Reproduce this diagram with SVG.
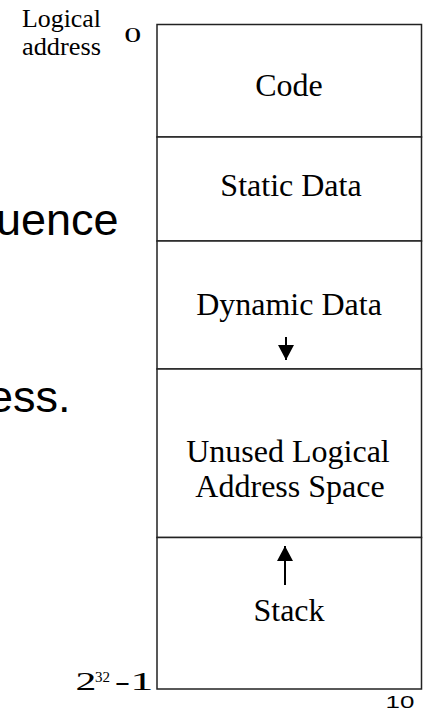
<svg xmlns="http://www.w3.org/2000/svg" width="427" height="710" viewBox="0 0 427 710">
  <style>
    .box { fill: #ffffff; stroke: #222222; stroke-width: 1.5; }
    .lbl { font-family: "Liberation Serif", "Times New Roman", serif; font-size: 32px; fill: #000000; text-anchor: middle; }
    .side { font-family: "Liberation Serif", "Times New Roman", serif; fill: #000000; }
    .bg { font-family: "Liberation Sans", Arial, sans-serif; font-size: 45px; fill: #000000; }
    .pg { font-family: "Liberation Sans", Arial, sans-serif; font-size: 16px; fill: #000000; }
    .conn { stroke: #000000; stroke-width: 2; fill: none; }
  </style>
  <defs>
    <marker id="head" viewBox="0 0 15 16" refX="15" refY="8" markerWidth="15" markerHeight="16" markerUnits="userSpaceOnUse" orient="auto">
      <path d="M0,0 L15,8 L0,16 Z" fill="#000000"/>
    </marker>
  </defs>
  <rect width="427" height="710" fill="#ffffff"/>

  <!-- background slide text (cut off at the left edge, as in the reference) -->
  <text class="bg" x="-4" y="235">uence</text>
  <text class="bg" x="-12" y="412">ess.</text>

  <!-- side labels -->
  <g id="axis-labels">
    <text class="side" x="22" y="27" font-size="25" textLength="79" lengthAdjust="spacingAndGlyphs">Logical</text>
    <text class="side" x="22" y="55" font-size="25" textLength="79" lengthAdjust="spacingAndGlyphs">address</text>
    <text class="side" font-size="21" transform="translate(124.2,42) scale(1.62,1)">0</text>
    <text class="side" font-size="25" transform="translate(75.4,690) scale(1.67,1)">2</text>
    <text class="side" font-size="15" transform="translate(95,682)">32</text>
    <text class="side" font-size="25" transform="translate(114.8,690) scale(1.85,1)">-1</text>
  </g>

  <g id="code">
    <rect class="box" x="157" y="24.5" width="264.5" height="112.5"/>
    <text class="lbl" x="289" y="96">Code</text>
  </g>
  <g id="static-data">
    <rect class="box" x="157" y="137" width="264.5" height="104"/>
    <text class="lbl" x="291" y="196">Static Data</text>
  </g>
  <g id="dynamic-data">
    <rect class="box" x="157" y="241" width="264.5" height="128"/>
    <text class="lbl" x="289" y="315">Dynamic Data</text>
  </g>
  <g id="unused-space">
    <rect class="box" x="157" y="369" width="264.5" height="168.5"/>
    <text class="lbl" x="288" y="461.5">Unused Logical</text>
    <text class="lbl" x="290" y="497">Address Space</text>
  </g>
  <g id="stack">
    <rect class="box" x="157" y="537.5" width="264.5" height="151.5"/>
    <text class="lbl" x="289" y="621">Stack</text>
  </g>

  <g id="connectors">
    <line class="conn" x1="286" y1="337" x2="286" y2="360" marker-end="url(#head)"/>
    <line class="conn" x1="285" y1="585" x2="285" y2="546" marker-end="url(#head)"/>
  </g>

  <text id="page-number" class="pg" transform="translate(385.5,708) scale(1.62,1)">10</text>
</svg>
